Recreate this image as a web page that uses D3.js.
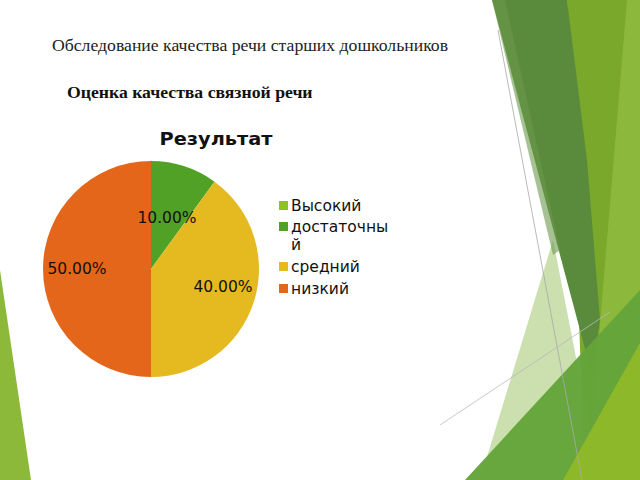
<!DOCTYPE html>
<html><head><meta charset="utf-8">
<script src="https://cdn.jsdelivr.net/npm/d3@7"></script>
<style>body{margin:0;background:#fff}svg{display:block}</style>
</head><body>
<script>
const categories = ["Высокий", "достаточный", "средний", "низкий"];
const values = [0, 10, 40, 50];
const labels = ["", "10.00%", "40.00%", "50.00%"];
const colors = ["#8DC21F", "#52A127", "#E5B920", "#E4661A"];
const legendLines = [["Высокий"], ["достаточны", "й"], ["средний"], ["низкий"]];

const W = 640, H = 480;
const svg = d3.select("body").append("svg").attr("width", W).attr("height", H);

// Decorative background (Facet-like theme)
const deco = [
  {pts: [[0,270],[31,480],[0,480]], fill: "#8DB93A", op: 1},
  {pts: [[567,0],[640,0],[640,480],[585,480]], fill: "#79A82B", op: 1},
  {pts: [[627,0],[640,0],[640,480],[587,480]], fill: "#8CB83C", op: 1},
  {pts: [[553,240],[600,480],[480,480]], fill: "#A8C97A", op: 0.6},
  {pts: [[492,0],[567,0],[587,160],[600,320],[592,375]], fill: "#5A8B3D", op: 1},
  {pts: [[492,0],[505,0],[560,250],[553,255]], fill: "#6A9A4C", op: 0.6},
  {pts: [[465,480],[640,290],[640,480]], fill: "#64A43A", op: 0.97},
  {pts: [[563,480],[640,343],[640,480]], fill: "#8DB829", op: 1}
];
svg.selectAll("polygon.deco").data(deco).join("polygon")
  .attr("points", d => d.pts.map(p => p.join(",")).join(" "))
  .attr("fill", d => d.fill).attr("opacity", d => d.op);
svg.append("line").attr("x1", 498).attr("y1", 30).attr("x2", 582).attr("y2", 480)
  .attr("stroke", "#aaa").attr("stroke-width", 1).attr("opacity", 0.8);
svg.append("line").attr("x1", 440).attr("y1", 425).attr("x2", 610).attr("y2", 312)
  .attr("stroke", "#bbb").attr("stroke-width", 1).attr("opacity", 0.8);

// Titles
svg.append("text").attr("x", 52).attr("y", 51)
  .style("font-family", "Liberation Serif").style("font-size", "17.7px").attr("fill", "#222")
  .text("Обследование качества речи старших дошкольников");
svg.append("text").attr("x", 67).attr("y", 98)
  .style("font-family", "Liberation Serif").style("font-size", "17.7px").style("font-weight", "bold").attr("fill", "#111")
  .text("Оценка качества связной речи");
svg.append("text").attr("x", 216).attr("y", 145).attr("text-anchor", "middle")
  .style("font-family", "DejaVu Sans").style("font-size", "18px").style("font-weight", "bold").attr("fill", "#111")
  .attr("textLength", 113).attr("lengthAdjust", "spacingAndGlyphs")
  .text("Результат");

// Pie
const cx = 151, cy = 269, r = 108;
const pie = d3.pie().sort(null).value(d => d)(values);
const arc = d3.arc().innerRadius(0).outerRadius(r);
const g = svg.append("g").attr("transform", `translate(${cx},${cy})`);
g.selectAll("path").data(pie).join("path")
  .attr("d", arc).attr("fill", (d, i) => colors[i]);
const labelArc = d3.arc().innerRadius(r * 0.6).outerRadius(r * 0.6);
const labelPos = [null, [16, -51], [72, 18], [-74, 0]];
g.selectAll("text").data(pie).join("text")
  .attr("x", (d, i) => labelPos[i] ? labelPos[i][0] : labelArc.centroid(d)[0])
  .attr("y", (d, i) => labelPos[i] ? labelPos[i][1] : labelArc.centroid(d)[1])
  .attr("text-anchor", "middle").attr("dy", "0.35em")
  .style("font-family", "DejaVu Sans").style("font-size", "15.5px").attr("fill", "#111")
  .text((d, i) => labels[i]);

// Legend
const rowY = [206, 227, 267, 289];
const lg = svg.append("g");
categories.forEach((c, i) => {
  lg.append("rect").attr("x", 279).attr("y", rowY[i] - 5).attr("width", 9).attr("height", 9).attr("fill", colors[i]);
  legendLines[i].forEach((t, j) => {
    lg.append("text").attr("x", 291).attr("y", rowY[i] + j * 18).attr("dy", "0.35em")
      .style("font-family", "DejaVu Sans").style("font-size", "15.5px").attr("fill", "#111").text(t);
  });
});
</script>
</body></html>
